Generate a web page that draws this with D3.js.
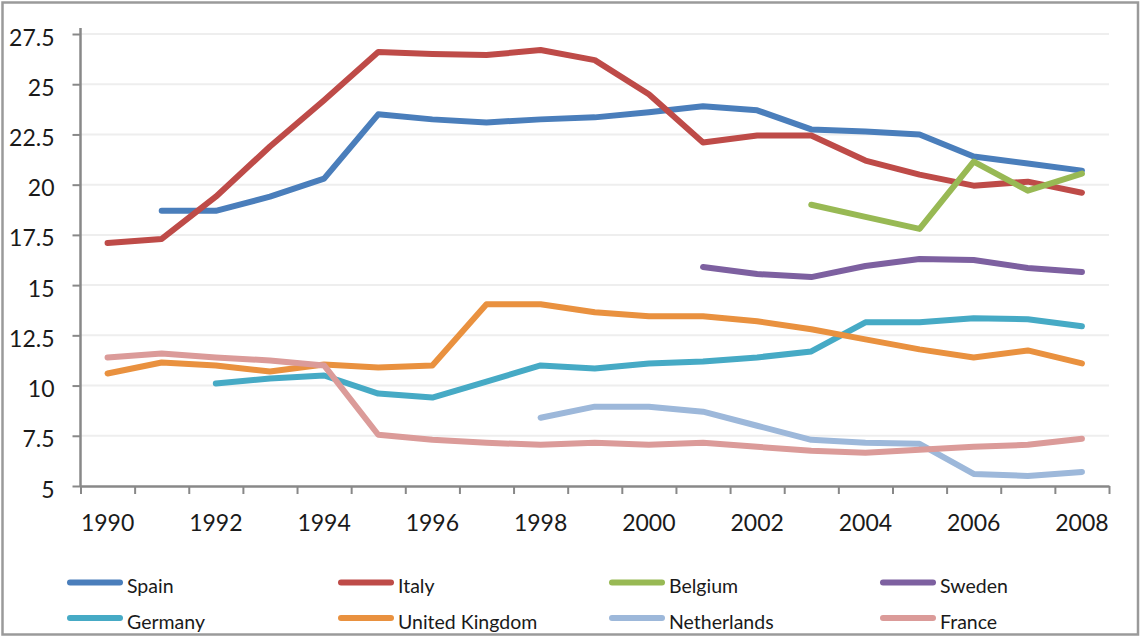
<!DOCTYPE html>
<html>
<head>
<meta charset="utf-8">
<script src="https://cdn.jsdelivr.net/npm/d3@7"></script>
<style>
  html, body { margin: 0; padding: 0; background: #fff; }
  svg { display: block; font-family: Lato, "Open Sans", sans-serif; }
</style>
</head>
<body>
<svg id="chart" width="1141" height="637"></svg>
<script>
const years = [1990,1991,1992,1993,1994,1995,1996,1997,1998,1999,2000,2001,2002,2003,2004,2005,2006,2007,2008];
const yTickValues = [5, 7.5, 10, 12.5, 15, 17.5, 20, 22.5, 25, 27.5];
const xTickLabels = [1990,1992,1994,1996,1998,2000,2002,2004,2006,2008];

const seriesNames = ["Spain","Italy","Belgium","Sweden","Germany","United Kingdom","Netherlands","France"];
const seriesColors = ["#4A7EBB","#BE4B48","#98B954","#7D60A0","#46AAC5","#E9913F","#9DB8DA","#DB9B99"];

const spain   = [null,18.7,18.7,19.4,20.3,23.5,23.25,23.1,23.25,23.35,23.6,23.9,23.7,22.75,22.65,22.5,21.4,21.05,20.7];
const italy   = [17.1,17.3,19.4,21.9,24.2,26.6,26.5,26.45,26.7,26.2,24.5,22.1,22.45,22.45,21.2,20.5,19.95,20.15,19.6];
const belgium = [null,null,null,null,null,null,null,null,null,null,null,null,null,19.0,18.4,17.8,21.15,19.7,20.55];
const sweden  = [null,null,null,null,null,null,null,null,null,null,null,15.9,15.55,15.4,15.95,16.3,16.25,15.85,15.65];
const germany = [null,null,10.1,10.35,10.5,9.6,9.4,10.2,11.0,10.85,11.1,11.2,11.4,11.7,13.15,13.15,13.35,13.3,12.95];
const uk      = [10.6,11.15,11.0,10.7,11.05,10.9,11.0,14.05,14.05,13.65,13.45,13.45,13.2,12.8,12.3,11.8,11.4,11.75,11.1];
const netherlands = [null,null,null,null,null,null,null,null,8.4,8.95,8.95,8.7,8.0,7.3,7.15,7.1,5.6,5.5,5.7];
const france  = [11.4,11.6,11.4,11.25,11.0,7.55,7.3,7.15,7.05,7.15,7.05,7.15,6.95,6.75,6.65,6.8,6.95,7.05,7.35];

const seriesValues = [spain, italy, belgium, sweden, germany, uk, netherlands, france];

const svg = d3.select("#chart");

// outer border
svg.append("rect")
  .attr("x", 2.5).attr("y", 2.5).attr("width", 1135.5).attr("height", 632)
  .attr("fill", "#fff").attr("stroke", "#9a9a9a").attr("stroke-width", 2.5);

const plotLeft = 80.5, plotRight = 1109, plotTop = 34, plotBottom = 486;

const x = d3.scaleBand().domain(years).range([plotLeft, plotRight]).padding(0);
const xEdge = d3.scaleLinear().domain([0, years.length]).range([plotLeft, plotRight]);
const y = d3.scaleLinear().domain([5, 27.5]).range([plotBottom, plotTop]);
const cx = yr => x(yr) + x.bandwidth() / 2;

// gridlines
svg.append("g")
  .selectAll("line")
  .data(yTickValues.filter(v => v > 5))
  .join("line")
  .attr("x1", plotLeft).attr("x2", plotRight)
  .attr("y1", d => y(d)).attr("y2", d => y(d))
  .attr("stroke", "#eeeeee").attr("stroke-width", 2);

// y axis
const yAxis = svg.append("g")
  .attr("transform", `translate(${plotLeft},0)`)
  .call(d3.axisLeft(y).tickValues(yTickValues).tickFormat(d => String(d)).tickSize(8).tickSizeOuter(0));
yAxis.select(".domain").attr("stroke", "#888").attr("stroke-width", 2.5)
  .attr("d", `M0,${plotTop - 6}V${plotBottom}`);
yAxis.selectAll(".tick line").attr("stroke", "#888").attr("stroke-width", 2);
yAxis.selectAll(".tick text")
  .attr("x", -26).attr("dy", null).attr("y", 11)
  .attr("fill", "#1a1a1a").style("font-size", "23px").style("font-family", "Lato, 'Open Sans', sans-serif");

// x axis: boundary ticks
const xAxisTicks = svg.append("g")
  .attr("transform", `translate(0,${plotBottom})`)
  .call(d3.axisBottom(xEdge).tickValues(d3.range(0, years.length + 1)).tickFormat("").tickSize(8).tickSizeOuter(0));
xAxisTicks.select(".domain").attr("stroke", "#888").attr("stroke-width", 2.5);
xAxisTicks.selectAll(".tick line").attr("stroke", "#888").attr("stroke-width", 2);

// x axis labels
const xAxisLabels = svg.append("g")
  .attr("transform", `translate(0,${plotBottom})`)
  .call(d3.axisBottom(x).tickValues(xTickLabels).tickFormat(d => String(d)).tickSize(0));
xAxisLabels.select(".domain").remove();
xAxisLabels.selectAll(".tick text")
  .attr("dy", null).attr("y", 45)
  .attr("fill", "#1a1a1a").style("font-size", "23px").style("font-family", "Lato, 'Open Sans', sans-serif");

// lines
const line = d3.line()
  .defined(d => d.v !== null)
  .x(d => cx(d.year))
  .y(d => y(d.v));

seriesNames.forEach((name, i) => {
  const data = years.map((yr, j) => ({ year: yr, v: seriesValues[i][j] }));
  svg.append("path")
    .datum(data)
    .attr("d", line)
    .attr("fill", "none")
    .attr("stroke", seriesColors[i])
    .attr("stroke-width", 6)
    .attr("stroke-linejoin", "round")
    .attr("stroke-linecap", "round");
});

// legend
const legendCols = [127, 398, 669, 940];
const legendRows = [582.5, 618];
const legend = svg.append("g");
seriesNames.forEach((name, i) => {
  const col = i % 4, row = Math.floor(i / 4);
  const tx = legendCols[col], ly = legendRows[row];
  const g = legend.append("g");
  g.append("line")
    .attr("x1", tx - 57).attr("x2", tx - 7)
    .attr("y1", ly).attr("y2", ly)
    .attr("stroke", seriesColors[i]).attr("stroke-width", 6)
    .attr("stroke-linecap", "round");
  g.append("text")
    .attr("x", tx).attr("y", ly + 10.5)
    .attr("fill", "#1a1a1a")
    .style("font-size", "19.5px")
    .text(name);
});
</script>
</body>
</html>
